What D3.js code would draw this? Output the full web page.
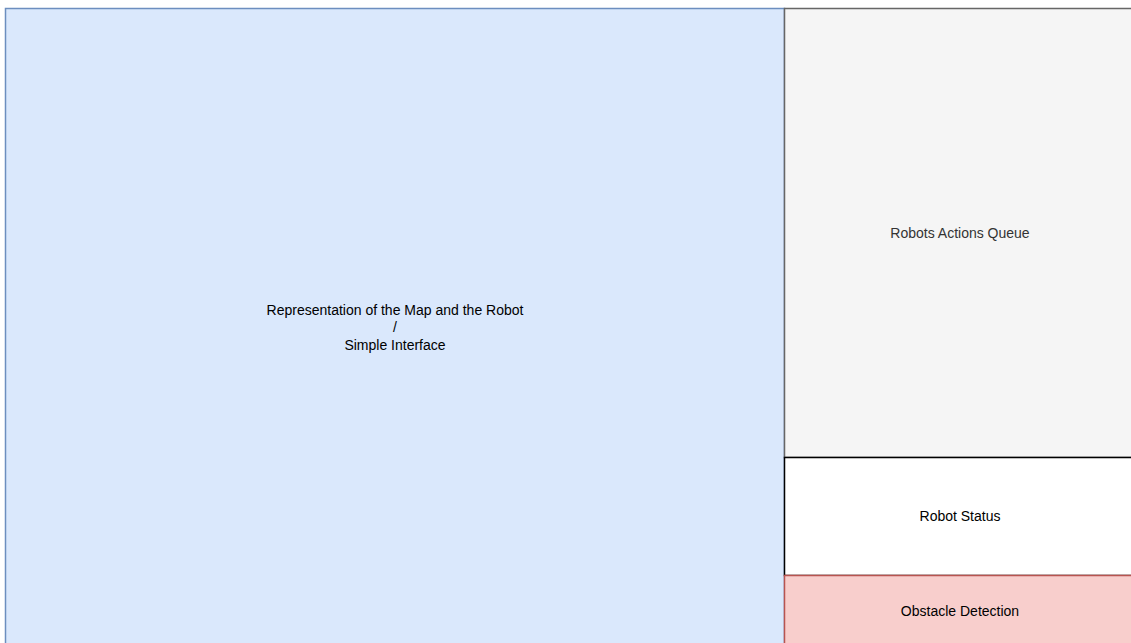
<!DOCTYPE html>
<html>
<head>
<meta charset="utf-8">
<script src="https://cdn.jsdelivr.net/npm/d3@7"></script>
<style>
  html, body { margin: 0; padding: 0; background: #ffffff; overflow: hidden; }
  svg { display: block; }
</style>
</head>
<body>
<div id="chart"></div>
<script>
// panels of the layout, in diagram units
let panelNames = ["map", "queue", "status", "obstacle"]
let panelLabels = [
    ["Representation of the Map and the Robot", "/", "Simple Interface"],
    ["Robots Actions Queue"],
    ["Robot Status"],
    ["Obstacle Detection"]
]
let panelX0 = [0, 779, 779, 779]
let panelX1 = [779, 1130, 1130, 1130]
let panelY0 = [0, 0, 449, 567]
let panelY1 = [638, 449, 567, 638]

// drawio-ish styles
let fills = ["#dae8fc", "#f5f5f5", "#ffffff", "#f8cecc"]
let strokes = ["#6c8ebf", "#666666", "#000000", "#b85450"]
let fontColors = ["#000000", "#333333", "#000000", "#000000"]

let width = 1131,
    height = 643;

let svg = d3.select("#chart")
    .append("svg")
    .attr("width", width)
    .attr("height", height)

// diagram units -> pixels
let x = d3.scaleLinear()
    .domain([0, 1130])
    .range([5.5, 1135.5]);
let y = d3.scaleLinear()
    .domain([0, 638])
    .range([8.5, 646.5]);

let panels = panelNames.map((name, i) => {
    return {
        name: name,
        label: panelLabels[i],
        x0: panelX0[i],
        x1: panelX1[i],
        y0: panelY0[i],
        y1: panelY1[i],
        fill: fills[i],
        stroke: strokes[i],
        color: fontColors[i]
    }
})

let groups = svg.selectAll("myPanels")
    .data(panels)
    .enter()
    .append("g")

groups.append("rect")
    .attr("x", (d) => x(d.x0))
    .attr("y", (d) => y(d.y0))
    .attr("width", (d) => x(d.x1) - x(d.x0))
    .attr("height", (d) => y(d.y1) - y(d.y0))
    .style("fill", (d) => d.fill)
    .style("stroke", (d) => d.stroke)
    .style("stroke-width", 1.5)

let lineHeight = 17.5

groups.append("text")
    .attr("text-anchor", "middle")
    .style("font-family", "'Liberation Sans', Arial, Helvetica, sans-serif")
    .style("font-size", "14px")
    .style("fill", (d) => d.color)
    .each(function (d) {
        let cx = (x(d.x0) + x(d.x1)) / 2
        let cy = (y(d.y0) + y(d.y1)) / 2
        let n = d.label.length
        d3.select(this).selectAll("tspan")
            .data(d.label)
            .enter()
            .append("tspan")
            .attr("x", cx)
            .attr("y", (t, j) => cy + (j - (n - 1) / 2) * lineHeight)
            .attr("dy", "0.35em")
            .text((t) => t)
    })
</script>
</body>
</html>
